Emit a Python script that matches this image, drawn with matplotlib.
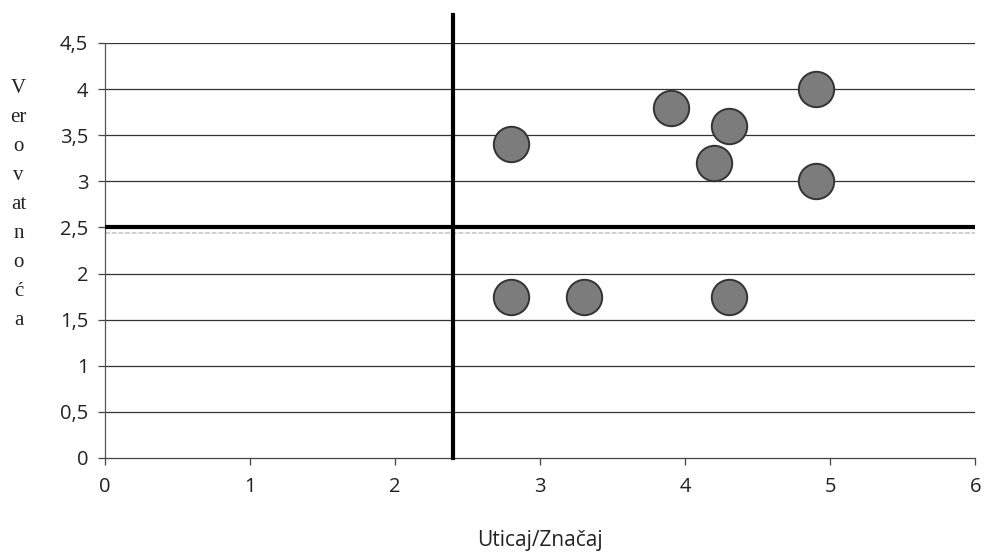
import matplotlib
matplotlib.use("Agg")
import matplotlib.pyplot as plt

# procena rizika: uticaj (x) i verovatnoca (y)
uticaj = [2.8, 3.9, 4.3, 4.2, 4.9, 4.9, 2.8, 3.3, 4.3]
verovatnoca = [3.4, 3.8, 3.6, 3.2, 4.0, 3.0, 1.75, 1.75, 1.75]

x_ticks = [0, 1, 2, 3, 4, 5, 6]
y_ticks = [0, 0.5, 1, 1.5, 2, 2.5, 3, 3.5, 4, 4.5]
y_labels = ["0", "0,5", "1", "1,5", "2", "2,5", "3", "3,5", "4", "4,5"]

granica_x = 2.4
granica_y = 2.5

fig = plt.figure(figsize=(9.84, 5.54), dpi=100)
ax = fig.add_axes([0.1067, 0.1733, 0.8843, 0.7491])

ax.set_xlim(0, 6)
ax.set_ylim(0, 4.5)

# horizontalne linije mreze
for yv in y_ticks[1:]:
    ax.axhline(yv, color="#333333", lw=0.9, zorder=1)

# podela na kvadrante
ax.plot([granica_x, granica_x], [0, 4.8], color="black", lw=3, clip_on=False, zorder=3)
ax.plot([0, 6], [granica_y, granica_y], color="black", lw=3, zorder=3)
ax.plot([0, 6], [granica_y - 0.06, granica_y - 0.06], color="#c8c8c8", lw=1.2, ls=(0, (3, 1)), zorder=2)

ax.scatter(uticaj, verovatnoca, s=650, color="#7c7c7c", edgecolors="#333333",
           linewidths=1.4, zorder=4)

for s in ["top", "right"]:
    ax.spines[s].set_visible(False)
ax.spines["left"].set_color("#555555")
ax.spines["bottom"].set_color("#444444")
ax.spines["left"].set_linewidth(0.9)
ax.spines["bottom"].set_linewidth(0.9)

ax.set_xticks(x_ticks)
ax.set_yticks(y_ticks)
ax.set_yticklabels(y_labels)
ax.tick_params(axis="both", direction="out", length=5, width=0.9, color="#444444",
               labelsize=14.5, labelcolor="#222222")
ax.tick_params(axis="x", pad=9)
ax.tick_params(axis="y", pad=7)
for lbl in ax.get_xticklabels() + ax.get_yticklabels():
    lbl.set_family("Open Sans")

fig.text(0.549, 0.005, "Uticaj/Značaj", ha="center", va="bottom",
         fontsize=15, family="Open Sans", color="#222222")

oznaka = ["V", "er", "o", "v", "at", "n", "o", "ć", "a"]
fig.text(0.019, 0.858, "\n".join(oznaka), ha="center", va="top",
         fontsize=15, family="Liberation Serif", color="#222222", linespacing=1.72)

fig.savefig("out.png", dpi=100)
